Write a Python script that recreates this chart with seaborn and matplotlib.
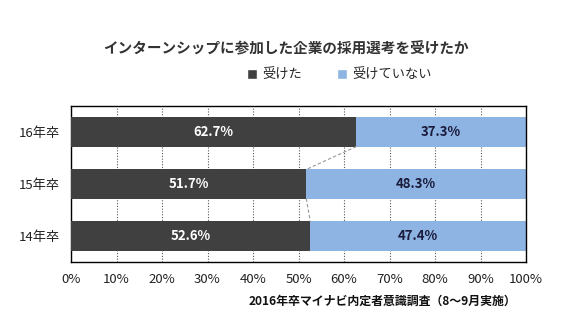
import matplotlib
matplotlib.use("Agg")
import matplotlib.pyplot as plt
from matplotlib.patches import Patch
from matplotlib.ticker import FixedLocator
import seaborn as sns
import pandas as pd

categories = ["16年卒", "15年卒", "14年卒"]
took = [62.7, 51.7, 52.6]
not_took = [37.3, 48.3, 47.4]
series_names = ["受けた", "受けていない"]
title = "インターンシップに参加した企業の採用選考を受けたか"
source = "2016年卒マイナビ内定者意識調査（8～9月実施）"

DARK = "#404040"
BLUE = "#8DB4E2"

sns.set_theme(style="white")
plt.rcParams['font.family'] = ['Noto Sans CJK JP', 'DejaVu Sans']

df = pd.DataFrame({"cat": categories, "took": took, "not_took": not_took})
df["total"] = df["took"] + df["not_took"]

fig = plt.figure(figsize=(5.75, 3.25), dpi=100)
ax = fig.add_axes([0.1235, 0.1938, 0.7913, 0.48])

sns.barplot(data=df, y="cat", x="total", color=BLUE, orient="h", ax=ax,
            width=0.56, saturation=1, linewidth=0, zorder=2)
sns.barplot(data=df, y="cat", x="took", color=DARK, orient="h", ax=ax,
            width=0.56, saturation=1, linewidth=0, zorder=3)

ax.set_xlim(0, 100)
ax.set_ylim(2.5, -0.5)
ax.set_xticks(range(0, 101, 10))
ax.set_xticklabels([f"{v}%" for v in range(0, 101, 10)], fontsize=9.5, color="#222222")
ax.tick_params(axis="x", length=0, pad=8)
ax.tick_params(axis="y", length=0, pad=8, labelsize=9.5, labelcolor="#222222")
ax.yaxis.set_minor_locator(FixedLocator([0.5, 1.5]))
ax.tick_params(axis="y", which="minor", length=4, color="black", direction="out", width=0.8)
ax.set_xlabel("")
ax.set_ylabel("")
ax.grid(axis="x", linestyle=(0, (1, 1.5)), color="#555555", linewidth=0.8, zorder=0)
ax.set_axisbelow(True)
for s in ax.spines.values():
    s.set_visible(True)
    s.set_color("black")
    s.set_linewidth(1.0)

# labels
for i, (a, b) in enumerate(zip(took, not_took)):
    ax.text(a / 2, i, f"{a}%", ha="center", va="center", color="white",
            fontsize=9.5, fontweight="bold", zorder=5)
    ax.text(a + b / 2, i, f"{b}%", ha="center", va="center", color="#1A1A3A",
            fontsize=9.5, fontweight="bold", zorder=5)

# connector lines
h = 0.56 / 2
for i in range(len(took) - 1):
    ax.plot([took[i], took[i + 1]], [i + h, i + 1 - h], color="#999999",
            linestyle=(0, (3, 2)), linewidth=0.8, zorder=4)

fig.text(0.497, 0.852, title, ha="center", va="center", fontsize=10.5,
         fontweight="bold", color="#333333")

handles = [Patch(facecolor=DARK), Patch(facecolor=BLUE)]
fig.legend(handles, series_names, loc="center", bbox_to_anchor=(0.59, 0.768),
           ncol=2, frameon=False, fontsize=9.5, handlelength=0.8, handleheight=0.8,
           handletextpad=0.4, columnspacing=2.6)

fig.text(0.898, 0.072, source, ha="right", va="center", fontsize=8.6,
         fontweight="bold", color="#111111")

fig.savefig("out.png", dpi=100, facecolor="white")
